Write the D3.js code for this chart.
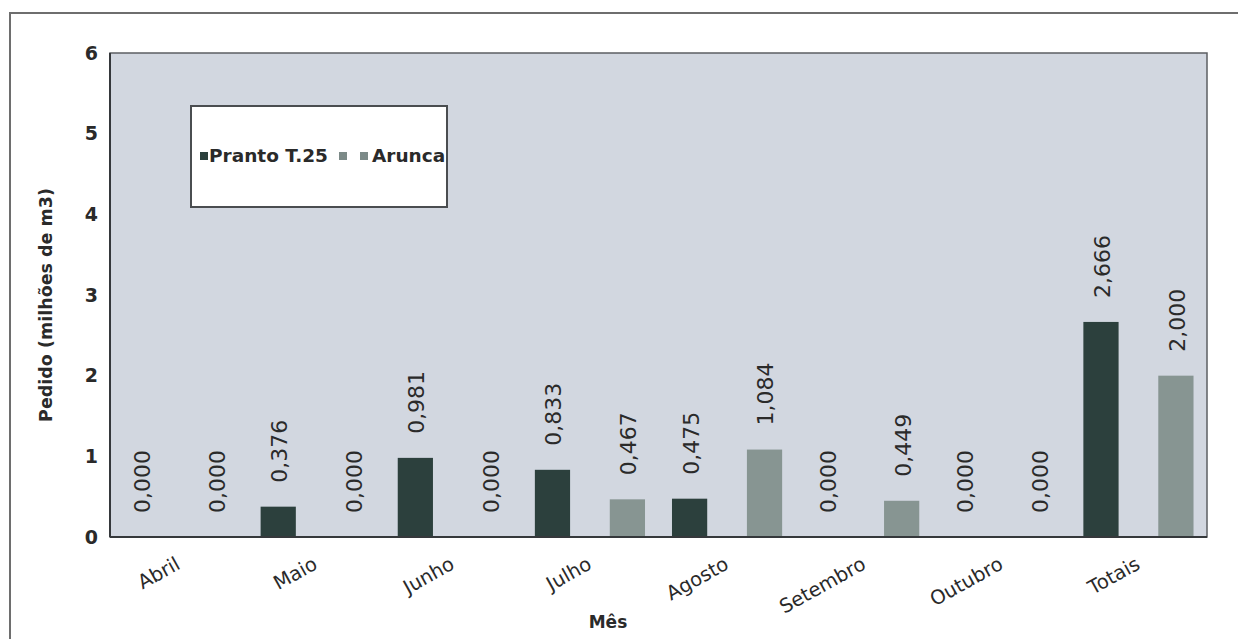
<!DOCTYPE html>
<html>
<head>
<meta charset="utf-8">
<script src="https://cdn.jsdelivr.net/npm/d3@7"></script>
<style>
  html, body { margin: 0; padding: 0; background: #ffffff; }
  svg { display: block; }
  text { font-family: "DejaVu Sans", Verdana, sans-serif; fill: #2a2a2a; }
</style>
</head>
<body>
<svg id="chart" width="1238" height="639"></svg>
<script>
// Monthly requested volumes (millions of m3) per source
const categories = ["Abril", "Maio", "Junho", "Julho", "Agosto", "Setembro", "Outubro", "Totais"];
const seriesNames = ["Pranto T.25", "Arunca"];
const prantoValues = [0.000, 0.376, 0.981, 0.833, 0.475, 0.000, 0.000, 2.666];
const aruncaValues = [0.000, 0.000, 0.000, 0.467, 1.084, 0.449, 0.000, 2.000];
const yTicks = [0, 1, 2, 3, 4, 5, 6];
const yTitle = "Pedido (milhões de m3)";
const xTitle = "Mês";

const colors = { "Pranto T.25": "#2c403d", "Arunca": "#879592" };

const svg = d3.select("#chart");
const W = 1238, H = 639;
const plot = { left: 110, top: 53, right: 1207, bottom: 537 };

// Outer chart frame (extends past the visible page on the right and bottom)
svg.append("rect")
  .attr("x", 10).attr("y", 13)
  .attr("width", W + 20).attr("height", H + 20)
  .attr("fill", "#ffffff")
  .attr("stroke", "#6e6e6e").attr("stroke-width", 2);

const x0 = d3.scaleBand().domain(categories).range([plot.left, plot.right]).padding(0);
const x1 = d3.scaleBand().domain(seriesNames).range([0, x0.bandwidth()])
  .paddingInner(0.53).paddingOuter(0.18);
const y = d3.scaleLinear().domain([0, 6]).range([plot.bottom, plot.top]);

// Plot area background
svg.append("rect")
  .attr("x", plot.left).attr("y", plot.top)
  .attr("width", plot.right - plot.left).attr("height", plot.bottom - plot.top)
  .attr("fill", "#d2d7e0")
  .attr("stroke", "#5c5f63").attr("stroke-width", 1.5);

const rows = categories.map((c, i) => ({
  category: c,
  values: [
    { series: seriesNames[0], value: prantoValues[i] },
    { series: seriesNames[1], value: aruncaValues[i] }
  ]
}));

const locale = d3.formatLocale({ decimal: ",", thousands: ".", grouping: [3], currency: ["", ""] });
const fmt = locale.format(".3f");

const groups = svg.append("g").selectAll("g")
  .data(rows).join("g")
  .attr("transform", d => `translate(${x0(d.category)},0)`);

groups.selectAll("rect")
  .data(d => d.values).join("rect")
  .attr("x", d => x1(d.series))
  .attr("width", x1.bandwidth())
  .attr("y", d => y(d.value))
  .attr("height", d => y(0) - y(d.value))
  .attr("fill", d => colors[d.series]);

// Value labels, rotated, above each bar
groups.selectAll("text")
  .data(d => d.values).join("text")
  .attr("transform", d => `translate(${x1(d.series) + x1.bandwidth() / 2 + 1},${y(d.value) - 24}) rotate(-90)`)
  .attr("dy", "0.36em")
  .attr("text-anchor", "start")
  .style("font-size", "22px")
  .text(d => fmt(d.value));

// Axis lines drawn darker on left and bottom
svg.append("line")
  .attr("x1", plot.left).attr("x2", plot.left)
  .attr("y1", plot.top).attr("y2", plot.bottom)
  .attr("stroke", "#35383b").attr("stroke-width", 2);
svg.append("line")
  .attr("x1", plot.left).attr("x2", plot.right)
  .attr("y1", plot.bottom).attr("y2", plot.bottom)
  .attr("stroke", "#35383b").attr("stroke-width", 2);

// Y axis
const yAxis = svg.append("g")
  .attr("transform", `translate(${plot.left},0)`)
  .call(d3.axisLeft(y).tickValues(yTicks).tickSize(0).tickPadding(12).tickFormat(d3.format("d")));
yAxis.select(".domain").remove();
yAxis.selectAll("text")
  .style("font-family", "'DejaVu Sans', Verdana, sans-serif")
  .style("font-size", "19px")
  .style("font-weight", "bold")
  .attr("fill", "#2a2a2a");

// X axis category labels, slanted
const xAxis = svg.append("g")
  .attr("transform", `translate(0,${plot.bottom})`)
  .call(d3.axisBottom(x0).tickSize(0).tickPadding(0));
xAxis.select(".domain").remove();
xAxis.selectAll("text")
  .style("font-family", "'DejaVu Sans', Verdana, sans-serif")
  .style("font-size", "19.5px")
  .attr("fill", "#2a2a2a")
  .attr("text-anchor", "end")
  .attr("y", 0).attr("dy", 0)
  .attr("transform", "translate(3,31) rotate(-29)");

// Axis titles
svg.append("text")
  .attr("transform", `translate(52,${(plot.top + plot.bottom) / 2 + 10}) rotate(-90)`)
  .attr("text-anchor", "middle")
  .style("font-size", "17.5px")
  .style("font-weight", "bold")
  .text(yTitle);

svg.append("text")
  .attr("x", 608).attr("y", 628)
  .attr("text-anchor", "middle")
  .style("font-size", "17px")
  .style("font-weight", "bold")
  .text(xTitle);

// Legend
const legend = svg.append("g").attr("transform", "translate(191,106)");
legend.append("rect")
  .attr("width", 256).attr("height", 101)
  .attr("fill", "#ffffff")
  .attr("stroke", "#4a4d50").attr("stroke-width", 2);

const legendY = 50;
legend.append("rect").attr("x", 9).attr("y", legendY - 4).attr("width", 8).attr("height", 8)
  .attr("fill", colors[seriesNames[0]]);
legend.append("text").attr("x", 18).attr("y", legendY).attr("dy", "0.35em")
  .style("font-size", "18.5px").style("font-weight", "bold")
  .text(seriesNames[0]);
legend.append("rect").attr("x", 148).attr("y", legendY - 4).attr("width", 8).attr("height", 8)
  .attr("fill", "#7c8a88");
legend.append("rect").attr("x", 169).attr("y", legendY - 4).attr("width", 8).attr("height", 8)
  .attr("fill", "#7c8a88");
legend.append("text").attr("x", 181).attr("y", legendY).attr("dy", "0.35em")
  .style("font-size", "18.5px").style("font-weight", "bold")
  .text(seriesNames[1]);
</script>
</body>
</html>
